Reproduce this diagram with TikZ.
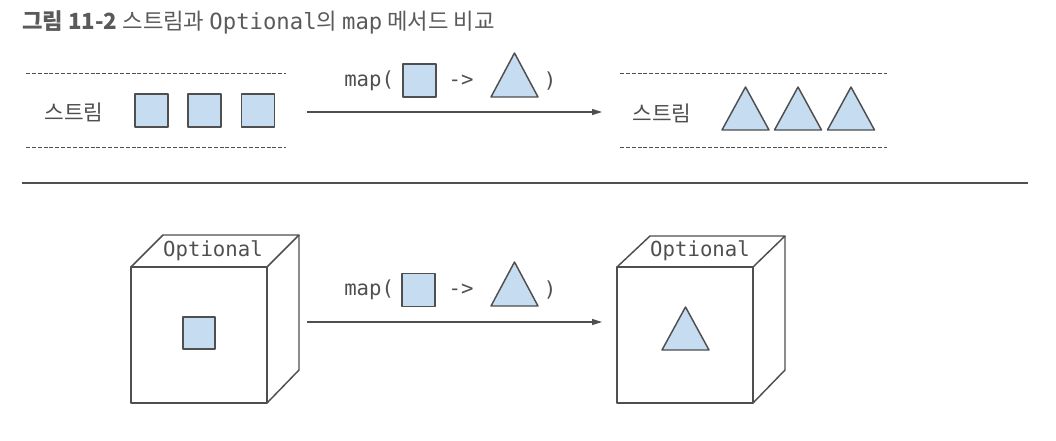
\documentclass[tikz,border=0pt]{standalone}
\usepackage{fontspec}
\setmainfont{Noto Sans CJK KR}
\newfontfamily\codefont{DejaVu Sans Mono}
\usetikzlibrary{arrows.meta}
\definecolor{figblue}{HTML}{C6DCF1}
\definecolor{figgray}{HTML}{4F4F4F}
\definecolor{titlegray}{HTML}{5A5A5A}
\newcommand{\shapecolor}{figblue}
\newcommand{\edgecolor}{figgray}
\newcommand{\half}{16.5}

\begin{document}
\begin{tikzpicture}[x=0.75pt,y=-0.75pt, every node/.style={text=\edgecolor, inner sep=0pt, font=\fontsize{16}{19}\selectfont},
  shapefill/.style={fill=\shapecolor, draw=\edgecolor, line width=1.1pt, line join=round},
  boxline/.style={draw=\edgecolor, line width=1.1pt, line join=round},
  dashline/.style={draw=\edgecolor, line width=0.7pt, dash pattern=on 3pt off 1.4pt},
  flow/.style={draw=\edgecolor, line width=0.8pt, -{Triangle[length=7.5pt,width=4.5pt]}},
  code/.style={font=\codefont\fontsize{15.5}{18}\selectfont}]

\useasboundingbox (0,0) rectangle (1056,440);

% title
\node[anchor=west, font=\fontsize{16.7}{19}\selectfont, text=titlegray] (title) at (22,22) {{\bfseries 그림 11-2} 스트림과 {\codefont Optional}의 {\codefont map} 메서드 비교};

% stream, before
\draw[dashline] (26,73) -- (286,73);
\draw[dashline] (26,147) -- (286,147);
\node (streamA) at (74,112) {스트림};
\filldraw[shapefill] (151.5-\half,110.5-\half) rectangle (151.5+\half,110.5+\half);
\filldraw[shapefill] (204.5-\half,110.5-\half) rectangle (204.5+\half,110.5+\half);
\filldraw[shapefill] (258-\half,110.5-\half) rectangle (258+\half,110.5+\half);

% map label, top
\node[code, anchor=west] (mapA) at (344,81) {map(};
\filldraw[shapefill] (419.5-\half,80.5-\half) rectangle (419.5+\half,80.5+\half);
\node[code] (toA) at (461,81) {->};
\filldraw[shapefill] (514.5,53) -- (538,97) -- (491,97) -- cycle;
\node[code] (closeA) at (550,81) {)};

\coordinate (fromA) at (307,112);
\coordinate (toEndA) at (602,112);
\draw[flow] (fromA) -- (toEndA);

% stream, after
\draw[dashline] (620,73) -- (887,73);
\draw[dashline] (620,147) -- (887,147);
\node (streamB) at (662,113) {스트림};
\filldraw[shapefill] (745.5,87) -- (769,130) -- (722,130) -- cycle;
\filldraw[shapefill] (798,87) -- (821.5,130) -- (774.5,130) -- cycle;
\filldraw[shapefill] (851,87) -- (874.5,130) -- (827.5,130) -- cycle;

% separator
\coordinate (sepL) at (22,183);
\coordinate (sepR) at (1028,183);
\draw[draw=\edgecolor, line width=1pt] (sepL) -- (sepR);

% optional, before
\draw[boxline] (131,267) rectangle (267,403);
\draw[boxline] (131,267) -- (163,235) -- (299,235) -- (267,267);
\draw[boxline] (299,235) -- (299,370) -- (267,403);
\node[code] (optA) at (213,251) {Optional};
\filldraw[shapefill] (199-16,333-16) rectangle (199+16,333+16);

% map label, bottom
\node[code, anchor=west] (mapB) at (344,290) {map(};
\filldraw[shapefill] (418.5-\half,290-\half) rectangle (418.5+\half,290+\half);
\node[code] (toB) at (461,290) {->};
\filldraw[shapefill] (514.5,262) -- (538,306) -- (491,306) -- cycle;
\node[code] (closeB) at (550,290) {)};

\coordinate (fromB) at (307,322);
\coordinate (toEndB) at (602,322);
\draw[flow] (fromB) -- (toEndB);

% optional, after
\draw[boxline] (617,267) rectangle (753,403);
\draw[boxline] (617,267) -- (650,236) -- (785,236) -- (753,267);
\draw[boxline] (785,236) -- (785,370) -- (753,403);
\node[code] (optB) at (700,251) {Optional};
\filldraw[shapefill] (685.5,307) -- (709,350) -- (662,350) -- cycle;

\end{tikzpicture}
\end{document}
